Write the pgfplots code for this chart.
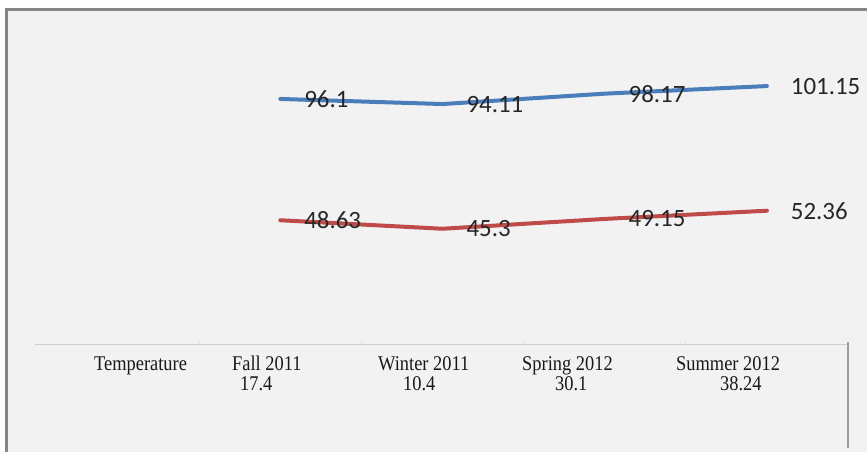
\documentclass[border=0pt]{standalone}
\usepackage{pgfplots}
\pgfplotsset{compat=1.18}
\usepackage{fontspec}
\setmainfont{Carlito}
\newfontfamily\tabfont[FakeStretch=0.88]{Liberation Serif}

\definecolor{seriesblue}{HTML}{4A7EBB}
\definecolor{seriesred}{HTML}{BE4B48}
\definecolor{panel}{HTML}{F2F2F2}
\definecolor{framegray}{HTML}{858585}
\definecolor{axisgray}{HTML}{CFCFCF}
\definecolor{labeltext}{HTML}{262626}

\begin{document}
\begin{tikzpicture}
  % page and chart panel
  \useasboundingbox (0bp,0bp) rectangle (867bp,452bp);
  \fill[white] (0bp,0bp) rectangle (867bp,452bp);
  \fill[panel] (6bp,0bp) rectangle (867bp,443bp);
  \draw[framegray, line width=2.8bp] (6.5bp,0bp) -- (6.5bp,442.5bp) -- (867bp,442.5bp);

  \begin{axis}[
    at={(37bp,107.5bp)}, anchor=south west,
    scale only axis, width=811bp, height=306.6bp,
    xmin=-0.5, xmax=4.5, ymin=0, ymax=120,
    hide axis, clip=false,
    every node near coord/.append style={
      anchor=west, xshift=22bp, inner sep=0pt,
      font=\fontsize{25}{30}\selectfont, text=labeltext},
    nodes near coords, point meta=explicit symbolic,
  ]
    % category axis line with faint separators
    \draw[axisgray, line width=1.5bp] (rel axis cs:-0.002,0) -- (rel axis cs:1,0);
    \pgfplotsinvokeforeach{0.5,1.5,2.5,3.5}{
      \draw[axisgray!60, line width=0.8bp] (axis cs:#1,0) -- ++(0bp,3bp);
    }

    \addplot[seriesblue, line width=4bp, line join=round, line cap=round] coordinates {
      (1,96.1) [96.1] (2,94.11) [94.11] (3,98.17) [98.17] (4,101.15) [101.15]
    };
    \addplot[seriesred, line width=4bp, line join=round, line cap=round] coordinates {
      (1,48.63) [48.63] (2,45.3) [45.3] (3,49.15) [49.15] (4,52.36) [52.36]
    };
  \end{axis}

  % data table below the category axis
  \draw[gray!75, line width=2bp] (848bp,110bp) -- (848bp,4bp);
  \begin{scope}[every node/.style={anchor=base west, inner sep=0pt,
      font=\tabfont\fontsize{21}{25}\selectfont, text=black!90}]
    \node at (94bp,81bp)  {Temperature};
    \node at (232bp,81bp) {Fall 2011};
    \node at (378bp,81bp) {Winter 2011};
    \node at (522bp,81bp) {Spring 2012};
    \node at (676bp,81bp) {Summer 2012};
    \node at (240bp,61bp) {17.4};
    \node at (403bp,61bp) {10.4};
    \node at (555bp,61bp) {30.1};
    \node at (720bp,61bp) {38.24};
  \end{scope}
\end{tikzpicture}
\end{document}
